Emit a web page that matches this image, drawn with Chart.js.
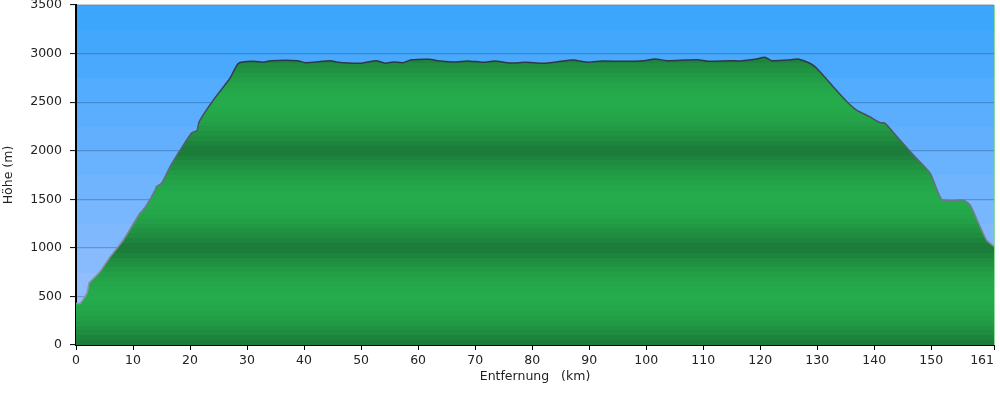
<!DOCTYPE html>
<html>
<head>
<meta charset="utf-8">
<script src="https://cdn.jsdelivr.net/npm/chart.js@4/dist/chart.umd.min.js"></script>
<style>
html,body{margin:0;padding:0;background:#fff;}
#wrap{width:1000px;height:394px;position:relative;}
</style>
</head>
<body>
<div id="wrap"><canvas id="c" width="1000" height="394"></canvas></div>
<script>
// Distance along the route (km)
const distKm = [0, 0.7, 1.9, 2.3, 2.5, 4.2, 6.0, 8.3, 11.2, 11.5, 12.4, 13.9, 14.1, 15.0, 16.5, 18.2, 20.3, 21.2, 21.6, 24.1, 27.0, 28.5,
  31.1, 32.8, 34.2, 38.9, 40.2, 44.6, 45.9, 49.9, 52.6, 54.3, 55.6, 57.3, 58.7, 62.0, 63.4, 66.7, 68.7, 71.4, 73.4, 76.1, 78.8,
  82.1, 84.5, 87.2, 89.9, 92.2, 96.2, 99.6, 101.6, 103.6, 107.0, 109.0, 111.0, 114.4, 116.4, 119.1, 120.8, 122.0, 125.2, 126.6,
  128.7, 129.9, 132.8, 135.2, 136.9, 139.2, 141.0, 141.9, 144.5, 147.4, 149.8, 151.8, 153.9, 155.6, 156.8, 158.3, 159.7, 160.9, 161];
// Elevation (m)
const elevM = [429, 429, 532, 641, 652, 755, 909, 1081, 1356, 1372, 1441, 1596, 1630, 1665, 1836, 2000, 2185, 2206, 2299, 2522, 2746, 2900,
  2920, 2910, 2927, 2927, 2906, 2927, 2910, 2900, 2927, 2900, 2914, 2906, 2934, 2941, 2927, 2914, 2924, 2910, 2924, 2903, 2910,
  2900, 2917, 2934, 2910, 2924, 2920, 2927, 2944, 2927, 2934, 2937, 2920, 2927, 2924, 2941, 2962, 2927, 2934, 2944,
  2900, 2848, 2659, 2505, 2419, 2350, 2289, 2282, 2110, 1922, 1768, 1500, 1486, 1493, 1441, 1253, 1081, 1019, 1019];
// Axis tick values
const xTickValues = [0, 10, 20, 30, 40, 50, 60, 70, 80, 90, 100, 110, 120, 130, 140, 150, 161];
const yTickStep = 500;
const yMax = 3500;
const xMax = 161;
const xTitle = 'Entfernung   (km)';
const yTitle = 'Höhe (m)';

function hex(c){return [parseInt(c.slice(1,3),16),parseInt(c.slice(3,5),16),parseInt(c.slice(5,7),16)];}
function mix(a,b,t){const A=hex(a),B=hex(b);return 'rgb('+A.map((v,i)=>Math.round(v+(B[i]-v)*t)).join(',')+')';}

const skyPlugin = {
  id:'sky',
  beforeDraw(chart){
    const {ctx, chartArea:a, scales:{y}} = chart;
    ctx.save();
    const step = 250;
    for(let m=0; m<yMax; m+=step){
      const t = (m+step/2)/yMax;
      ctx.fillStyle = mix('#a2c2ff','#38a4fc', t);
      const y1 = y.getPixelForValue(m+step), y0 = y.getPixelForValue(m);
      ctx.fillRect(a.left, Math.floor(y1), a.right-a.left, Math.ceil(y0)-Math.floor(y1));
    }
    ctx.restore();
  },
  afterDraw(chart){
    const {ctx, chartArea:a} = chart;
    ctx.save();
    ctx.strokeStyle='#8ed99c';
    ctx.lineWidth=1;
    ctx.beginPath();ctx.moveTo(a.right+0.5,a.top);ctx.lineTo(a.right+0.5,a.bottom);ctx.stroke();
    ctx.restore();
  }
};

function greenFill(context){
  const chart = context.chart; const a = chart.chartArea;
  if(!a) return '#22a045';
  const y = chart.scales.y;
  const g = chart.ctx.createLinearGradient(0, y.getPixelForValue(yMax), 0, y.getPixelForValue(0));
  const band = 50;
  for(let m=yMax; m>0; m-=band){
    const mid = m - band/2;
    let f = 0.5 - 0.5*Math.cos(2*Math.PI*mid/1000);
    f = Math.pow(f, 0.5);
    const col = mix('#1b7838','#25ab4c', f);
    const o1 = (yMax-m)/yMax, o2 = (yMax-m+band)/yMax;
    g.addColorStop(o1, col); g.addColorStop(Math.min(1,o2-0.0001), col);
  }
  return g;
}
function lineColor(context){
  const chart = context.chart; const a = chart.chartArea;
  if(!a) return '#445';
  const y = chart.scales.y;
  const g = chart.ctx.createLinearGradient(0, y.getPixelForValue(3000), 0, y.getPixelForValue(0));
  g.addColorStop(0,'#2a3544');
  g.addColorStop(0.33,'#56606e');
  g.addColorStop(0.66,'#848c9c');
  g.addColorStop(1,'#98a0b0');
  return g;
}

const font = {family:'"DejaVu Sans", Verdana, sans-serif', size:12.5};
new Chart(document.getElementById('c'), {
  type:'line',
  data:{datasets:[{
    data: distKm.map((x,i)=>({x, y: elevM[i]})),
    fill:'origin',
    backgroundColor: greenFill,
    borderColor: lineColor,
    borderWidth:1.5,
    pointRadius:0,
    tension:0.2
  }]},
  options:{
    responsive:false, animation:false, devicePixelRatio:1,
    layout:{autoPadding:false, padding:{top:5,right:6,left:0,bottom:0}},
    plugins:{legend:{display:false}, tooltip:{enabled:false}},
    scales:{
      x:{type:'linear', min:0, max:xMax, z:1,
        afterBuildTicks(s){ s.ticks = xTickValues.map(v=>({value:v})); },
        afterFit(s){ s.height = 49; s.paddingLeft = 0; s.paddingRight = 0; },
        ticks:{font, color:'#222', padding:3, autoSkip:false, maxRotation:0,
          callback:v=> v === xMax ? String(v) + '\u00a0\u00a0\u00a0\u00a0\u00a0\u00a0' : String(v)},
        grid:{drawOnChartArea:false, tickLength:5, tickColor:'#000', tickWidth:1},
        border:{color:'#000', width:2},
        title:{display:true, text:xTitle, font, color:'#222', padding:{top:0,bottom:10}}
      },
      y:{min:0, max:yMax, z:1,
        afterFit(s){ s.width = 76; s.paddingTop = 0; s.paddingBottom = 0; },
        ticks:{stepSize:yTickStep, font, color:'#222', padding:8, callback:v=>String(v)},
        grid:{color:'rgba(0,20,60,0.22)', lineWidth:1.2, tickLength:6, tickColor:'#000', tickWidth:1},
        border:{color:'#000', width:2},
        title:{display:true, text:yTitle, font, color:'#222', padding:{top:1,bottom:4}}
      }
    }
  },
  plugins:[skyPlugin]
});
</script>
</body>
</html>
